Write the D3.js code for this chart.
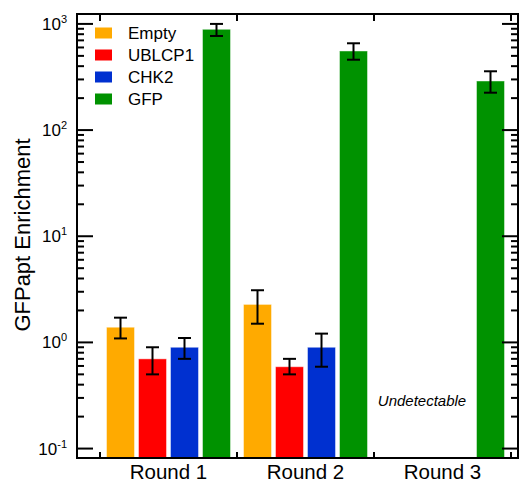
<!DOCTYPE html>
<html>
<head>
<meta charset="utf-8">
<script src="https://cdn.jsdelivr.net/npm/d3@7"></script>
<style>
  body { margin: 0; background: #fff; }
  text { font-family: "Liberation Sans", Arial, sans-serif; }
</style>
</head>
<body>
<div id="container"></div>
<script>
// data
var rounds = ["Round 1", "Round 2", "Round 3"];
var series = ["Empty", "UBLCP1", "CHK2", "GFP"];
var colors = ["#ffaa00", "#ff0000", "#0030d0", "#009200"];
// null = undetectable
var means = [
  [1.39, 0.70, 0.90, 890],
  [2.28, 0.59, 0.90, 556],
  [null, null, null, 290]
];
var errLow = [
  [1.09, 0.50, 0.70, 770],
  [1.50, 0.50, 0.59, 460],
  [null, null, null, 225]
];
var errHigh = [
  [1.71, 0.90, 1.10, 1000],
  [3.10, 0.70, 1.21, 657],
  [null, null, null, 358]
];
var yTicks = [-1, 0, 1, 2, 3];

var w = 520, h = 484;
var plotL = 77, plotR = 518, plotT = 14, plotB = 458;

var svg = d3.select("#container").append("svg")
  .attr("width", w).attr("height", h);

var x = d3.scaleBand().domain(rounds).range([100, 511]).padding(0);
var xi = d3.scaleBand().domain(series).range([6.5, 130.5]).paddingInner(0.125);
var y = d3.scaleLog().domain([0.0815, 1240]).range([plotB, plotT]);

// bars
rounds.forEach(function(r, i) {
  var g = svg.append("g").attr("transform", "translate(" + x(r) + ",0)");
  var rows = series.map(function(s, j) {
    return { s: s, c: colors[j], v: means[i][j], lo: errLow[i][j], hi: errHigh[i][j] };
  }).filter(function(d) { return d.v != null; });

  g.selectAll("rect").data(rows).enter().append("rect")
    .attr("x", function(d) { return xi(d.s); })
    .attr("y", function(d) { return y(d.v); })
    .attr("width", xi.bandwidth())
    .attr("height", function(d) { return plotB - y(d.v); })
    .attr("fill", function(d) { return d.c; })
    .attr("stroke", "#fff").attr("stroke-opacity", 0.45).attr("stroke-width", 1);

  var eb = g.selectAll("g.err").data(rows).enter().append("g")
    .attr("stroke", "#000").attr("stroke-width", 2);
  eb.append("line")
    .attr("x1", function(d) { return xi(d.s) + xi.bandwidth() / 2; })
    .attr("x2", function(d) { return xi(d.s) + xi.bandwidth() / 2; })
    .attr("y1", function(d) { return y(d.lo); })
    .attr("y2", function(d) { return y(d.hi); });
  ["lo", "hi"].forEach(function(k) {
    eb.append("line")
      .attr("x1", function(d) { return xi(d.s) + xi.bandwidth() / 2 - 6.5; })
      .attr("x2", function(d) { return xi(d.s) + xi.bandwidth() / 2 + 6.5; })
      .attr("y1", function(d) { return y(d[k]); })
      .attr("y2", function(d) { return y(d[k]); });
  });
});

svg.append("text")
  .attr("x", 422).attr("y", 406)
  .attr("text-anchor", "middle")
  .attr("font-size", 15).attr("font-style", "italic")
  .text("Undetectable");

// frame
svg.append("rect")
  .attr("x", plotL).attr("y", plotT)
  .attr("width", plotR - plotL).attr("height", plotB - plotT)
  .attr("fill", "none").attr("stroke", "#000").attr("stroke-width", 2);

// y ticks, both sides, inward
var minor = [];
yTicks.slice(0, -1).forEach(function(e) {
  for (var k = 2; k <= 9; k++) minor.push(k * Math.pow(10, e));
});
for (var k = 2; k <= 9; k++) {
  if (k * 1000 < 1240) minor.push(k * 1000);
}
[[plotL, 1], [plotR, -1]].forEach(function(side) {
  var ax = svg.append("g").attr("stroke", "#000").attr("stroke-width", 2);
  ax.selectAll("line.maj").data(yTicks).enter().append("line")
    .attr("x1", side[0]).attr("x2", side[0] + side[1] * 16)
    .attr("y1", function(e) { return y(Math.pow(10, e)); })
    .attr("y2", function(e) { return y(Math.pow(10, e)); });
  ax.selectAll("line.min").data(minor).enter().append("line")
    .attr("x1", side[0]).attr("x2", side[0] + side[1] * 7)
    .attr("y1", function(v) { return y(v); })
    .attr("y2", function(v) { return y(v); });
});

// y tick labels 10^n
var lab = svg.selectAll("text.ytick").data(yTicks).enter().append("text")
  .attr("x", 67)
  .attr("y", function(e) { return y(Math.pow(10, e)) + 6; })
  .attr("text-anchor", "end")
  .attr("font-size", 17);
lab.append("tspan").text("10");
lab.append("tspan").attr("dy", -7).attr("font-size", 11).text(function(e) { return e; });

// x ticks at group boundaries, top and bottom
var bounds = rounds.map(function(r) { return x(r); }).concat([x.range()[1]]);
var xt = svg.append("g").attr("stroke", "#000").attr("stroke-width", 2);
xt.selectAll("line.b").data(bounds).enter().append("line")
  .attr("x1", function(d) { return d; }).attr("x2", function(d) { return d; })
  .attr("y1", plotB).attr("y2", plotB - 6);
xt.selectAll("line.t").data(bounds).enter().append("line")
  .attr("x1", function(d) { return d; }).attr("x2", function(d) { return d; })
  .attr("y1", plotT).attr("y2", plotT + 7);

svg.selectAll("text.xl").data(rounds).enter().append("text")
  .attr("x", function(d) { return x(d) + x.bandwidth() / 2; })
  .attr("y", 479)
  .attr("text-anchor", "middle")
  .attr("font-size", 20.5)
  .text(function(d) { return d; });

svg.append("text")
  .attr("transform", "translate(30,235) rotate(-90)")
  .attr("text-anchor", "middle")
  .attr("font-size", 22)
  .text("GFPapt Enrichment");

// legend
var leg = svg.selectAll("g.leg").data(series).enter().append("g")
  .attr("transform", function(d, i) { return "translate(95," + (33 + i * 22) + ")"; });
leg.append("rect")
  .attr("x", 0).attr("y", -5.5).attr("width", 17).attr("height", 11)
  .attr("fill", function(d, i) { return colors[i]; });
leg.append("text")
  .attr("x", 33).attr("y", 6)
  .attr("font-size", 17)
  .text(function(d) { return d; });
</script>
</body>
</html>
